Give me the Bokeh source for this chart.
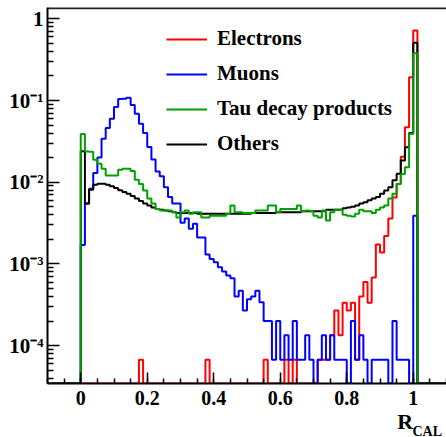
import numpy as np
from bokeh.plotting import figure
from bokeh.layouts import column
from bokeh.models import (Range1d, FixedTicker, SingleIntervalTicker, CustomJSTickFormatter,
                          Legend, LegendItem)
from bokeh.core.properties import value
from bokeh.embed import file_html
from bokeh.resources import INLINE

# ---------------- data (fraction of entries per bin, bins of 0.0125 starting at R_CAL = 0) ----
BIN_WIDTH = 0.0125
FIRST_EDGE = 0.0
X_MIN, X_MAX = -0.1, 1.1
Y_MIN, Y_MAX = 3.44e-5, 1.375

electrons = [
    0, 0, 0, 0, 0, 0, 0, 0, 0, 0,
    0, 0, 0, 0, 6.7e-5, 0, 0, 0, 0, 0,
    0, 0, 0, 0, 0, 0, 0, 0, 0, 0,
    6.7e-5, 0, 0, 0, 0, 0, 0, 0, 0, 0,
    0, 0, 0, 0, 6.7e-5, 0, 0, 0, 0, 6.7e-5,
    0, 6.7e-5, 0, 0, 0, 0, 0, 6.7e-5, 6.7e-5, 6.7e-5,
    1.34e-4, 2.7e-4, 1.34e-4, 3.35e-4, 2.7e-4, 3.35e-4, 6.7e-5, 4.0e-4, 6.0e-4, 3.35e-4,
    6.8e-4, 0.00173, 0.00138, 0.0022, 0.0036, 0.0065, 0.0095, 0.0205, 0.047, 0.193,
    0.72,
]

muons = [
    0.0017, 0.0055, 0.0083, 0.013, 0.020, 0.034, 0.046, 0.060, 0.083, 0.104,
    0.105, 0.108, 0.088, 0.069, 0.052, 0.040, 0.027, 0.019, 0.0135, 0.0118,
    0.0087, 0.0066, 0.0055, 0.0055, 0.0032, 0.0036, 0.0027, 0.0031, 0.0021, 0.0021,
    0.0013, 0.00115, 0.00105, 0.00091, 0.00081, 0.00072, 0.00067, 0.0004, 0.00047, 0.00027,
    0.00037, 0.0004, 0.00047, 0.00034, 0.0002, 0.0002, 6.7e-5, 0.0002, 6.7e-5, 1.34e-4,
    6.7e-5, 0.0002, 6.7e-5, 6.7e-5, 1.34e-4, 6.7e-5, 0, 6.7e-5, 1.34e-4, 6.7e-5,
    1.34e-4, 6.7e-5, 6.7e-5, 6.7e-5, 0, 0.0002, 6.7e-5, 1.34e-4, 6.7e-5, 0,
    6.7e-5, 6.7e-5, 6.7e-5, 6.7e-5, 0, 0.0002, 6.7e-5, 6.7e-5, 6.7e-5, 0,
    0.0039,
]

tau_products = [
    0.039, 0.0238, 0.0236, 0.0188, 0.0168, 0.0146, 0.0121, 0.0121, 0.0121, 0.0142,
    0.0146, 0.0146, 0.0137, 0.0107, 0.0095, 0.0079, 0.0063, 0.0055, 0.0047, 0.0045,
    0.0045, 0.0045, 0.0043, 0.0037, 0.0043, 0.0045, 0.0041, 0.0043, 0.0043, 0.0037,
    0.0037, 0.0039, 0.0039, 0.0039, 0.0039, 0.0041, 0.0052, 0.0043, 0.0043, 0.0042,
    0.0042, 0.0042, 0.0045, 0.0045, 0.0045, 0.0052, 0.0052, 0.0043, 0.0047, 0.0047,
    0.0047, 0.0047, 0.0052, 0.0044, 0.0045, 0.0044, 0.0039, 0.0037, 0.0045, 0.0034,
    0.0043, 0.0046, 0.0046, 0.0040, 0.0039, 0.0038, 0.0041, 0.0046, 0.0044, 0.0044,
    0.0042, 0.0046, 0.0049, 0.0052, 0.0063, 0.0072, 0.0095, 0.0126, 0.0152, 0.039,
    0.38,
]

others = [
    0.024, 0.0055, 0.0081, 0.0093, 0.0096, 0.0096, 0.0093, 0.0089, 0.0085, 0.0080,
    0.0076, 0.0072, 0.0068, 0.0063, 0.0059, 0.0055, 0.0052, 0.0049, 0.0047, 0.0046,
    0.0045, 0.0044, 0.0043, 0.0042, 0.0042, 0.0042, 0.0042, 0.0042, 0.0041, 0.0041,
    0.0041, 0.0041, 0.0041, 0.0041, 0.0041, 0.0041, 0.0041, 0.0041, 0.0041, 0.0041,
    0.0041, 0.0042, 0.0042, 0.0042, 0.0042, 0.0042, 0.0042, 0.0043, 0.0043, 0.0043,
    0.0043, 0.0043, 0.0043, 0.0044, 0.0044, 0.0044, 0.0044, 0.0044, 0.0044, 0.0046,
    0.0046, 0.0046, 0.0046, 0.0048, 0.0049, 0.0050, 0.0052, 0.0055, 0.0057, 0.0060,
    0.0063, 0.0066, 0.0072, 0.0079, 0.0087, 0.0106, 0.0127, 0.0184, 0.0268, 0.040,
    0.51,
]

series_names = ["Electrons", "Muons", "Tau decay products", "Others"]
series_values = [electrons, muons, tau_products, others]
series_colors = ["#ff0000", "#0000ff", "#00a000", "#000000"]
draw_order = [0, 1, 3, 2]          # red, blue, black, green on top

x_major_step = 0.2
y_major_ticks = [1e-4, 1e-3, 1e-2, 1e-1, 1.0]
y_tick_labels = ["10\u207b\u2074", "10\u207b\u00b3", "10\u207b\u00b2", "10\u207b\u00b9", "1"]
x_title_main, x_title_sub = "R", "CAL"

# ---------------- histogram geometry ----------------
n_bins = int(round((X_MAX - X_MIN) / BIN_WIDTH))
edges = X_MIN + BIN_WIDTH * np.arange(n_bins + 1)
first = int(round((FIRST_EDGE - X_MIN) / BIN_WIDTH))


def step_arrays(vals):
    full = np.zeros(n_bins)
    full[first:first + len(vals)] = vals
    full = np.where(full > 0, full, Y_MIN)
    return edges, np.append(full, full[-1])


FONT = "Liberation Serif"

p = figure(width=446, height=413, output_backend="svg", toolbar_location=None, title=None,
           x_range=Range1d(X_MIN, X_MAX), y_range=Range1d(Y_MIN, Y_MAX),
           y_axis_type="log", min_border=0, min_border_left=47, min_border_right=0,
           min_border_top=7, min_border_bottom=30)
p.grid.visible = False
p.outline_line_color = None
p.background_fill_color = "white"
p.border_fill_color = "white"

renderers = {}
for i in draw_order:
    xs, ys = step_arrays(series_values[i])
    renderers[i] = p.step(xs, ys, mode="after", line_color=series_colors[i], line_width=2)

# top frame border (half of it clipped away by the frame)
p.line([X_MIN, X_MAX], [Y_MAX, Y_MAX], line_color="#222222", line_width=3.4)

# ---------------- axes ----------------
xa = p.xaxis[0]
xa.ticker = SingleIntervalTicker(interval=x_major_step, num_minor_ticks=4)
xa.formatter = CustomJSTickFormatter(code="return String(Math.round(tick*10)/10);")
xa.major_tick_in = 11
xa.major_tick_out = 0
xa.minor_tick_in = 5
xa.minor_tick_out = 0
xa.major_tick_line_width = 1.5
xa.minor_tick_line_width = 1.5
xa.axis_line_width = 2
xa.major_label_text_font = FONT
xa.major_label_text_font_style = "bold"
xa.major_label_text_font_size = "20px"
xa.major_label_text_color = "black"
xa.major_label_standoff = 7

minor_y = [m * 10.0 ** e for e in range(-5, 1) for m in range(2, 10)
           if Y_MIN <= m * 10.0 ** e <= Y_MAX]
ya = p.yaxis[0]
ya.ticker = FixedTicker(ticks=y_major_ticks, minor_ticks=minor_y)
ya.formatter = CustomJSTickFormatter(
    args=dict(vals=y_major_ticks, labs=y_tick_labels),
    code="""
    const i = vals.findIndex(v => Math.abs(Math.log10(v) - Math.log10(tick)) < 1e-6);
    return i >= 0 ? labs[i] : '';
    """)
ya.major_tick_in = 12
ya.major_tick_out = 0
ya.minor_tick_in = 6
ya.minor_tick_out = 0
ya.major_tick_line_width = 1.5
ya.minor_tick_line_width = 1.5
ya.axis_line_width = 2
ya.major_label_text_font = FONT
ya.major_label_text_font_style = "bold"
ya.major_label_text_font_size = "21px"
ya.major_label_text_color = "black"
ya.major_label_standoff = 4

# ---------------- legend ----------------
leg_items = [LegendItem(label=name, renderers=[renderers[i]])
             for i, name in enumerate(series_names)]
legend = Legend(items=leg_items, location=(119, 227), orientation="vertical",
                glyph_width=41, glyph_height=24, label_height=24, spacing=10,
                padding=0, margin=0, label_standoff=10,
                border_line_color=None, background_fill_alpha=0,
                label_text_font=FONT, label_text_font_style="bold",
                label_text_font_size="21px", label_text_color="black")
p.add_layout(legend)

# ---------------- axis title strip (R_CAL) ----------------
t = figure(width=446, height=24, output_backend="svg", toolbar_location=None, title=None,
           x_range=Range1d(0, 446), y_range=Range1d(0, 24),
           x_axis_location=None, y_axis_location=None, min_border=0,
           min_border_left=0, min_border_right=0, min_border_top=0, min_border_bottom=0)
t.grid.visible = False
t.outline_line_color = None
t.background_fill_color = "white"
t.border_fill_color = "white"
t.text(x=[391], y=[16], text=[x_title_main], text_font=value(FONT), text_font_style="bold",
       text_font_size="22px", text_baseline="alphabetic", text_align="left", text_color="black")
t.text(x=[408], y=[6], text=[x_title_sub], text_font=value(FONT), text_font_style="bold",
       text_font_size="14px", text_baseline="alphabetic", text_align="left", text_color="black")

layout = column(p, t, spacing=0)
open("out.html", "w").write(file_html(layout, INLINE))
